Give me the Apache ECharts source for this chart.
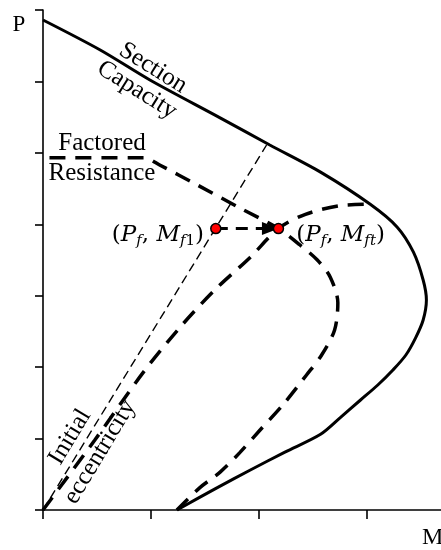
<!DOCTYPE html>
<html>
<head>
<meta charset="utf-8">
<script src="https://cdn.jsdelivr.net/npm/echarts@6/dist/echarts.min.js"></script>
<style>
  html, body { margin: 0; padding: 0; background: #fff; }
  #chart { width: 441px; height: 550px; }
</style>
</head>
<body>
<div id="chart"></div>
<script>
// Section capacity envelope (M, P)
const capM = [0, 0.53, 0.99, 1.64, 2.10, 2.57, 3.03, 3.28, 3.43, 3.52, 3.55, 3.52, 3.45, 3.36, 3.24, 3.10, 2.94, 2.75, 2.57, 2.24, 1.92, 1.61, 1.24];
const capP = [6.86, 6.44, 6.02, 5.49, 5.11, 4.73, 4.28, 3.96, 3.61, 3.22, 2.94, 2.66, 2.41, 2.17, 1.96, 1.75, 1.54, 1.29, 1.06, 0.81, 0.56, 0.31, 0];

// Factored resistance envelope with the axial cap
const facM = [0.06, 0.94, 1.08, 1.43, 1.82, 2.18, 2.38, 2.54, 2.66, 2.73, 2.70, 2.58, 2.44, 2.22, 2.01, 1.82, 1.64, 1.45, 1.24];
const facP = [4.93, 4.93, 4.83, 4.55, 4.23, 3.94, 3.71, 3.50, 3.26, 2.90, 2.52, 2.17, 1.89, 1.47, 1.12, 0.80, 0.53, 0.31, 0];

// Second-order load path (Pf, Mft)
const pathM = [0, 0.48, 0.93, 1.27, 1.59, 1.92, 2.18, 2.43, 2.75, 3.03];
const pathP = [0, 0.98, 1.93, 2.56, 3.08, 3.54, 3.94, 4.14, 4.26, 4.28];

// Initial eccentricity line
const eccM = [0, 2.07];
const eccP = [0, 5.11];

// Factored load and moments
const Pf = 3.94;
const Mf1 = 1.60;
const Mft = 2.18;

// Axis ticks
const mTicks = { min: 0, max: 4, step: 1 };
const pTicks = { min: 0, max: 7, step: 1 };

const zip = (a, b) => a.map((v, i) => [v, b[i]]);

const serif = '"Liberation Serif", "Times New Roman", serif';
const mathFont = '"DejaVu Serif", serif';

const rich = {
  n: { fontFamily: mathFont, fontSize: 23, lineHeight: 30, color: '#000' },
  i: { fontFamily: mathFont, fontStyle: 'italic', fontSize: 23, lineHeight: 30, color: '#000' },
  s: { fontFamily: mathFont, fontStyle: 'italic', fontSize: 15, lineHeight: 30, padding: [14, 0, 0, 0], color: '#000' },
  sn: { fontFamily: mathFont, fontSize: 15, lineHeight: 30, padding: [14, 0, 0, 0], color: '#000' }
};

const chart = echarts.init(document.getElementById('chart'), null, { renderer: 'canvas' });

const axisCommon = {
  type: 'value',
  axisLine: { show: true, onZero: false, lineStyle: { color: '#000', width: 1.6 } },
  axisTick: { show: true, length: 9, lineStyle: { color: '#000', width: 1.6 } },
  axisLabel: { show: false },
  splitLine: { show: false }
};

chart.setOption({
  animation: false,
  backgroundColor: '#fff',
  grid: { left: 43, top: 10, width: 432, height: 500, containLabel: false, outerBoundsMode: 'none' },
  xAxis: Object.assign({}, axisCommon, { min: mTicks.min, max: mTicks.max, interval: mTicks.step }),
  yAxis: Object.assign({}, axisCommon, { min: pTicks.min, max: pTicks.max, interval: pTicks.step,
    axisTick: { show: true, length: 8, lineStyle: { color: '#000', width: 1.6 } } }),
  series: [
    {
      name: 'Section Capacity', type: 'line', data: zip(capM, capP),
      showSymbol: false, smooth: 0.3, clip: false, silent: true,
      lineStyle: { color: '#000', width: 3 }, z: 3
    },
    {
      name: 'Factored Resistance', type: 'line', data: zip(facM, facP),
      showSymbol: false, smooth: 0.3, clip: false, silent: true,
      lineStyle: { color: '#000', width: 3.5, type: [16, 10] }, z: 3
    },
    {
      name: 'Load path', type: 'line', data: zip(pathM, pathP),
      showSymbol: false, smooth: 0.3, clip: false, silent: true,
      lineStyle: { color: '#000', width: 3.5, type: [16, 10] }, z: 3
    },
    {
      name: 'Initial eccentricity', type: 'line', data: zip(eccM, eccP),
      showSymbol: false, clip: false, silent: true,
      lineStyle: { color: '#000', width: 1.4, type: [9, 5] }, z: 2
    },
    {
      name: 'Moment magnification', type: 'line', data: [], silent: true, z: 4,
      markLine: {
        silent: true, animation: false,
        symbol: ['none', 'triangle'],
        symbolSize: [13, 17],
        symbolOffset: [0, [0, 8]],
        label: { show: false },
        lineStyle: { color: '#000', width: 3, type: [12, 8] },
        emphasis: { disabled: true },
        data: [[{ coord: [Mf1, Pf] }, { coord: [Mft, Pf] }]]
      }
    },
    {
      name: 'Points', type: 'scatter', silent: true, z: 6,
      symbol: 'circle', symbolSize: 10,
      itemStyle: { color: '#ff0000', borderColor: '#000', borderWidth: 1.5, opacity: 1 },
      data: [
        {
          value: [Mf1, Pf],
          label: {
            show: true, position: 'left', distance: 6, offset: [0, 6], color: '#000',
            formatter: '{n|(}{i|P}{s|f}{n|, }{i|M}{s|f}{sn|1}{n|)}', rich: rich
          }
        },
        {
          value: [Mft, Pf],
          label: {
            show: true, position: 'right', distance: 12, offset: [0, 6], color: '#000',
            formatter: '{n|(}{i|P}{s|f}{n|, }{i|M}{s|ft}{n|)}', rich: rich
          }
        }
      ]
    }
  ],
  graphic: [
    { type: 'text', x: 19, y: 25, silent: true,
      style: { text: 'P', font: '23px ' + serif, fill: '#000', align: 'center', verticalAlign: 'middle' } },
    { type: 'text', x: 422, y: 538, silent: true,
      style: { text: 'M', font: '24px ' + serif, fill: '#000', align: 'left', verticalAlign: 'middle' } },
    { type: 'text', x: 153, y: 68, rotation: -32 * Math.PI / 180, silent: true,
      style: { text: 'Section', font: '25px ' + serif, fill: '#000', align: 'center', verticalAlign: 'middle' } },
    { type: 'text', x: 137, y: 90, rotation: -32 * Math.PI / 180, silent: true,
      style: { text: 'Capacity', font: '25px ' + serif, fill: '#000', align: 'center', verticalAlign: 'middle' } },
    { type: 'text', x: 102, y: 143, silent: true,
      style: { text: 'Factored', font: '25px ' + serif, fill: '#000', align: 'center', verticalAlign: 'middle' } },
    { type: 'text', x: 102, y: 173, silent: true,
      style: { text: 'Resistance', font: '25px ' + serif, fill: '#000', align: 'center', verticalAlign: 'middle' } },
    { type: 'text', x: 70, y: 437, rotation: 59 * Math.PI / 180, silent: true,
      style: { text: 'Initial', font: '25px ' + serif, fill: '#000', align: 'center', verticalAlign: 'middle' } },
    { type: 'text', x: 100, y: 452, rotation: 59 * Math.PI / 180, silent: true,
      style: { text: 'eccentricity', font: '25px ' + serif, fill: '#000', align: 'center', verticalAlign: 'middle' } }
  ]
});
</script>
</body>
</html>
